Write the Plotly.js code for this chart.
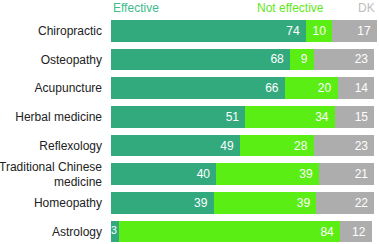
<!DOCTYPE html>
<html>
<head>
<meta charset="utf-8">
<script src="https://cdn.plot.ly/plotly-3.0.1.min.js"></script>
<style>html,body{margin:0;padding:0;background:#fff;}#chart{width:379px;height:244px;}</style>
</head>
<body>
<div id="chart"></div>
<script>
const categories = ["Chiropractic", "Osteopathy", "Acupuncture", "Herbal medicine", "Reflexology", "Traditional Chinese<br>medicine", "Homeopathy", "Astrology"];
const effective = [74, 68, 66, 51, 49, 40, 39, 3];
const notEffective = [10, 9, 20, 34, 28, 39, 39, 84];
const dk = [17, 23, 14, 15, 23, 21, 22, 12];
const seriesNames = ["Effective", "Not effective", "DK"];

const colors = ["#33aa7e", "#5bee14", "#adadad"];
const headColors = ["#3dbb8b", "#5fe81c", "#bdbdbd"];
const pad = "\u00a0";
const FONT = "Liberation Sans, Arial, sans-serif";

const seriesVals = [effective, notEffective, dk];
const traces = seriesVals.map((vals, s) => ({
  type: "bar",
  orientation: "h",
  name: seriesNames[s],
  y: categories,
  x: vals,
  width: 0.75,
  marker: {color: colors[s], line: {width: 0}},
  text: vals.map(v => v + pad),
  textposition: vals.map(v => v < 5 ? "none" : "inside"),
  insidetextanchor: "end",
  textangle: 0,
  constraintext: "none",
  textfont: {color: "#ffffff", size: 12, family: FONT},
  hoverinfo: "x+y"
}));

// labels for very small segments, drawn at the segment start
const smallIdx = effective.map((v, i) => v < 5 ? i : -1).filter(i => i >= 0);
traces.push({
  type: "scatter",
  mode: "text",
  x: smallIdx.map(() => 0),
  y: smallIdx.map(i => categories[i]),
  text: smallIdx.map(i => String(effective[i])),
  textposition: "middle right",
  textfont: {color: "#ffffff", size: 10.5, family: FONT},
  cliponaxis: false,
  hoverinfo: "skip"
});

const layout = {
  width: 379, height: 244,
  margin: {l: 111, r: 2, t: 16, b: 0},
  barmode: "stack",
  showlegend: false,
  paper_bgcolor: "#ffffff",
  plot_bgcolor: "#ffffff",
  font: {family: FONT, size: 12, color: "#222222"},
  xaxis: {range: [0, 101], showgrid: false, zeroline: false, showticklabels: false, ticks: "", fixedrange: true},
  yaxis: {type: "category", categoryarray: categories, range: [7.43, -0.514], showgrid: false, zeroline: false,
          ticks: "", ticklabelstandoff: 8, tickfont: {size: 12, color: "#222222"}, automargin: false, fixedrange: true},
  annotations: [
    {x: 0, y: 1, xref: "x", yref: "paper", xanchor: "left", yanchor: "middle", yshift: 8.5, text: seriesNames[0], showarrow: false, font: {color: headColors[0], size: 12}},
    {x: 81.8, y: 1, xref: "x", yref: "paper", xanchor: "right", yanchor: "middle", yshift: 8.5, text: seriesNames[1], showarrow: false, font: {color: headColors[1], size: 12}},
    {x: 101, y: 1, xref: "x", yref: "paper", xanchor: "right", yanchor: "middle", yshift: 8.5, text: seriesNames[2], showarrow: false, font: {color: headColors[2], size: 12}}
  ]
};

Plotly.newPlot("chart", traces, layout, {displayModeBar: false, staticPlot: true});
</script>
</body>
</html>
